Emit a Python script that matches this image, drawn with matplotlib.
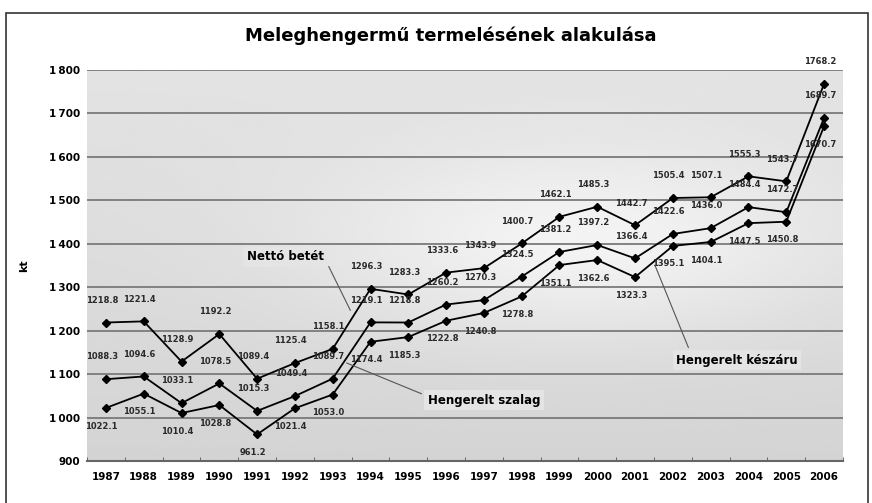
import numpy as np
import matplotlib
matplotlib.use('Agg')
import matplotlib.pyplot as plt
from matplotlib.patches import Rectangle
from matplotlib.ticker import FuncFormatter, MultipleLocator

plt.rcParams['font.family'] = ['Liberation Sans Narrow', 'DejaVu Sans']

years = [str(y) for y in range(1987, 2007)]
netto_betet = [1218.8, 1221.4, 1128.9, 1192.2, 1089.4, 1125.4, 1158.1, 1296.3, 1283.3, 1333.6,
               1343.9, 1400.7, 1462.1, 1485.3, 1442.7, 1505.4, 1507.1, 1555.3, 1543.7, 1768.2]
hengerelt_szalag = [1088.3, 1094.6, 1033.1, 1078.5, 1015.3, 1049.4, 1089.7, 1219.1, 1218.8, 1260.2,
                    1270.3, 1324.5, 1381.2, 1397.2, 1366.4, 1422.6, 1436.0, 1484.4, 1472.7, 1689.7]
hengerelt_keszaru = [1022.1, 1055.1, 1010.4, 1028.8, 961.2, 1021.4, 1053.0, 1174.4, 1185.3, 1222.8,
                     1240.8, 1278.8, 1351.1, 1362.6, 1323.3, 1395.1, 1404.1, 1447.5, 1450.8, 1670.7]

fig = plt.figure(figsize=(8.72, 5.03), dpi=100)
ax = fig.add_axes([0.0998, 0.0835, 0.8669, 0.7773])

# frame around the whole figure
fig.patches.append(Rectangle((0.007, -0.01), 0.988, 0.985, transform=fig.transFigure,
                             fill=False, edgecolor='#333333', linewidth=1.2))

x = np.arange(len(years))
ax.set_xlim(-0.5, len(years) - 0.5)
ax.set_ylim(900, 1800)

# gray gradient background of the plot area
gx, gy = np.meshgrid(np.linspace(0, 1, 200), np.linspace(0, 1, 200))
shade = 0.83 + 0.09 * np.exp(-((gx - 0.65) ** 2) / 0.12 - ((gy - 0.55) ** 2) / 0.06) + 0.06 * gy
shade = np.clip(shade, 0, 0.97)
ax.imshow(shade, cmap='gray', vmin=0, vmax=1, extent=(-0.5, len(years) - 0.5, 900, 1800),
          origin='lower', aspect='auto', zorder=0, interpolation='bicubic')

ax.yaxis.set_major_locator(MultipleLocator(100))
ax.grid(axis='y', color='#7a7a7a', linewidth=1.3, zorder=1)
ax.set_axisbelow(True)
for s in ['top', 'right', 'left']:
    ax.spines[s].set_visible(False)
ax.spines['bottom'].set_color('#666666')
ax.spines['bottom'].set_linewidth(1.5)

ax.set_xticks(x)
ax.set_xticklabels(years, fontsize=7.5, fontweight='bold')
ax.set_xticks(np.arange(-0.5, len(years)), minor=True)
ax.tick_params(axis='x', which='major', length=0, pad=8)
ax.tick_params(axis='x', which='minor', length=3, direction='in', color='#555555')
ax.tick_params(axis='y', length=0, labelsize=7.5, pad=5)
ax.yaxis.set_major_formatter(FuncFormatter(lambda v, p: '{:,.0f}'.format(v).replace(',', '\u2009')))
for t in ax.get_yticklabels():
    t.set_fontweight('bold')
ax.set_ylabel('kt', fontsize=8, fontweight='bold', labelpad=14)

series = [(netto_betet, 16), (hengerelt_szalag, 16), (hengerelt_keszaru, -13)]
for vals, dy in series:
    ax.plot(x, vals, color='black', linewidth=1.3, marker='D', markersize=4, zorder=3)
    for xi, v in zip(x, vals):
        ax.annotate('{:.1f}'.format(v), (xi, v), xytext=(-3, dy), textcoords='offset points',
                    ha='center', va='center', fontsize=6, fontweight='bold', color='#2a2a2a', zorder=4)

box = dict(boxstyle='square,pad=0.3', facecolor='#e4e4e4', edgecolor='none')
ax.annotate('Nettó betét', xy=(6.5, 1241), xytext=(4.75, 1370), fontsize=8.5, fontweight='bold',
            ha='center', va='center', bbox=box,
            arrowprops=dict(arrowstyle='-', color='#555555', lw=0.8, relpos=(1, 0.5)), zorder=5)
ax.annotate('Hengerelt szalag', xy=(6.3, 1128), xytext=(10.0, 1040), fontsize=8.5, fontweight='bold',
            ha='center', va='center', bbox=box,
            arrowprops=dict(arrowstyle='-', color='#555555', lw=0.8, relpos=(0, 0.8)), zorder=5)
ax.annotate('Hengerelt készáru', xy=(14.5, 1356), xytext=(16.7, 1132), fontsize=8.5, fontweight='bold',
            ha='center', va='center', bbox=box,
            arrowprops=dict(arrowstyle='-', color='#555555', lw=0.8, relpos=(0.12, 1)), zorder=5)

fig.text(0.517, 0.928, 'Meleghengermű termelésének alakulása', ha='center', va='center',
         fontsize=13, fontweight='bold')

fig.savefig('out.png', dpi=100)
